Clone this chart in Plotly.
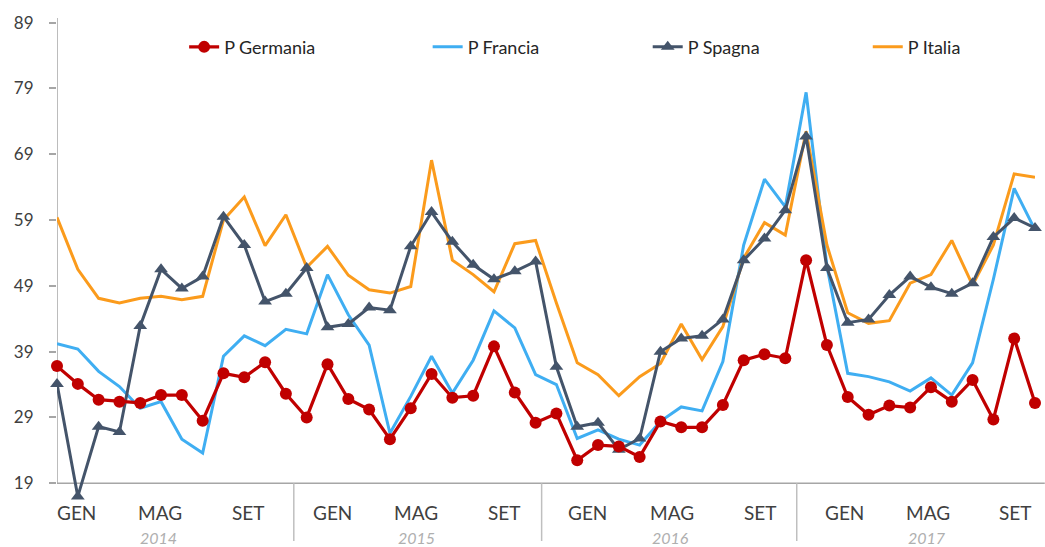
import plotly.graph_objects as go

# ---------------- data ----------------
months = (["DIC 2013"] +
          [f"{m} {y}" for y in (2014, 2015, 2016) for m in
           ["GEN", "FEB", "MAR", "APR", "MAG", "GIU", "LUG", "AGO", "SET", "OTT", "NOV", "DIC"]] +
          [f"{m} 2017" for m in ["GEN", "FEB", "MAR", "APR", "MAG", "GIU", "LUG", "AGO", "SET", "OTT", "NOV"]])

germania = [36.8, 34.1, 31.7, 31.4, 31.2, 32.4, 32.4, 28.5, 35.7, 35.1, 37.4, 32.6,
            29.0, 37.1, 31.8, 30.2, 25.7, 30.4, 35.6, 32.0, 32.3, 39.8, 32.8, 28.2,
            29.6, 22.5, 24.8, 24.6, 23.0, 28.4, 27.5, 27.5, 30.9, 37.7, 38.6, 38.0,
            52.9, 40.0, 32.1, 29.4, 30.8, 30.5, 33.6, 31.4, 34.7, 28.7, 41.0, 31.2]

francia = [40.2, 39.4, 36.0, 33.7, 30.4, 31.4, 25.7, 23.6, 38.3, 41.4, 39.9, 42.4,
           41.7, 50.7, 44.6, 40.0, 26.6, 32.2, 38.3, 32.7, 37.7, 45.2, 42.6, 35.5,
           34.0, 25.8, 27.1, 25.7, 24.8, 28.4, 30.6, 30.0, 37.5, 55.2, 65.2, 61.0,
           78.4, 52.0, 35.7, 35.2, 34.4, 33.0, 35.0, 32.4, 37.3, 50.0, 63.8, 57.5]

spagna = [34.1, 17.0, 27.6, 26.8, 42.9, 51.5, 48.6, 50.4, 59.5, 55.2, 46.6, 47.8,
          51.7, 42.7, 43.2, 45.7, 45.3, 55.0, 60.2, 55.7, 52.2, 50.0, 51.2, 52.7,
          36.7, 27.6, 28.2, 24.1, 25.8, 39.0, 41.0, 41.4, 43.9, 52.9, 56.2, 60.5,
          71.7, 51.7, 43.4, 43.9, 47.6, 50.4, 48.8, 47.8, 49.4, 56.4, 59.3, 57.8]

italia = [59.4, 51.5, 47.1, 46.4, 47.1, 47.4, 46.9, 47.4, 59.0, 62.5, 55.1, 59.8,
          51.8, 55.0, 50.6, 48.4, 47.9, 48.9, 68.1, 52.9, 50.7, 48.1, 55.4, 55.9,
          46.4, 37.3, 35.5, 32.3, 35.2, 37.2, 43.2, 37.8, 42.8, 53.2, 58.6, 56.7,
          72.5, 55.2, 44.9, 43.3, 43.7, 49.4, 50.7, 55.9, 49.1, 55.2, 66.0, 65.5]

y_ticks = [19, 29, 39, 49, 59, 69, 79, 89]
shown_months = ["GEN", "MAG", "SET"] * 4
years = ["2014", "2015", "2016", "2017"]

# ---------------- layout constants ----------------
month_label_pos = [0.93, 4.94, 9.21, 13.22, 17.23, 21.52, 25.48, 29.54, 33.79, 37.84, 41.85, 46.07]
year_label_pos = [4.86, 17.28, 29.46, 41.80]
separator_pos = [11.38, 23.29, 35.55]
# paper-x of each legend entry (left edge)
legend_x = [0.130, 0.379, 0.604, 0.829]

x = list(range(len(months)))

RED = "#C00000"
LBLUE = "#3FAEF2"
DBLUE = "#44546A"
ORANGE = "#FB9B1C"
TXT = "#404040"
AXC = "#A6A6A6"

fig = go.Figure()
fig.add_trace(go.Scatter(x=x, y=francia, name="P Francia", mode="lines",
                         line=dict(color=LBLUE, width=3), customdata=months,
                         legend="legend2"))
fig.add_trace(go.Scatter(x=x, y=italia, name="P Italia", mode="lines",
                         line=dict(color=ORANGE, width=3), customdata=months,
                         legend="legend4"))
fig.add_trace(go.Scatter(x=x, y=spagna, name="P Spagna", mode="lines+markers",
                         line=dict(color=DBLUE, width=3),
                         marker=dict(symbol="triangle-up", size=12, color=DBLUE),
                         cliponaxis=False, customdata=months, legend="legend3"))
fig.add_trace(go.Scatter(x=x, y=germania, name="P Germania", mode="lines+markers",
                         line=dict(color=RED, width=3.2),
                         marker=dict(symbol="circle", size=12, color=RED),
                         cliponaxis=False, customdata=months, legend="legend"))

Y0, Y1 = 16, 90
def paper_y(v):
    return (v - Y0) / (Y1 - Y0)

annotations = []
for lbl, pos in zip(shown_months, month_label_pos):
    annotations.append(dict(x=pos, y=-0.019, xref="x", yref="paper", text=lbl,
                            showarrow=False, yanchor="middle", xanchor="center",
                            font=dict(family="Lato", size=19, color=TXT)))
for lbl, pos in zip(years, year_label_pos):
    annotations.append(dict(x=pos, y=-0.070, xref="x", yref="paper",
                            text=f"<i>{lbl}</i>",
                            showarrow=False, yanchor="middle", xanchor="center",
                            font=dict(family="Lato", size=16, color="#AFAFAF")))

shapes = []
shapes.append(dict(type="line", xref="paper", yref="y", x0=0, x1=1.01, y0=19, y1=19,
                   line=dict(color=AXC, width=1.5), layer="below"))
shapes.append(dict(type="line", xref="x", yref="y", x0=0, x1=0, y0=19, y1=89.7,
                   line=dict(color=AXC, width=1.5), layer="below"))
for s in separator_pos:
    shapes.append(dict(type="line", xref="x", yref="paper", x0=s, x1=s,
                       y0=paper_y(19), y1=-0.078,
                       line=dict(color="#BFBFBF", width=1.5)))

def leg(xpos):
    return dict(orientation="h", x=xpos, xanchor="left", y=0.936, yanchor="middle",
                font=dict(family="Lato", size=18, color="#262626"),
                bgcolor="rgba(0,0,0,0)")

fig.update_layout(
    width=1045, height=547,
    margin=dict(l=57, r=10, t=16, b=44),
    paper_bgcolor="white", plot_bgcolor="white",
    showlegend=True,
    legend=leg(legend_x[0]),
    legend2=leg(legend_x[1]),
    legend3=leg(legend_x[2]),
    legend4=leg(legend_x[3]),
    xaxis=dict(range=[0, 47], showgrid=False, zeroline=False, showline=False,
               showticklabels=False, ticks=""),
    yaxis=dict(range=[Y0, Y1], tickvals=y_ticks, showgrid=False, zeroline=False,
               showline=False, ticks="outside", ticklen=7, tickcolor=AXC, tickwidth=1.5,
               ticklabelstandoff=12,
               tickfont=dict(family="Lato", size=17, color=TXT)),
    annotations=annotations,
    shapes=shapes,
)

fig.write_html("out.html", config={"displayModeBar": False},
               post_script="document.body.style.margin='0px';document.body.style.overflow='hidden';")
